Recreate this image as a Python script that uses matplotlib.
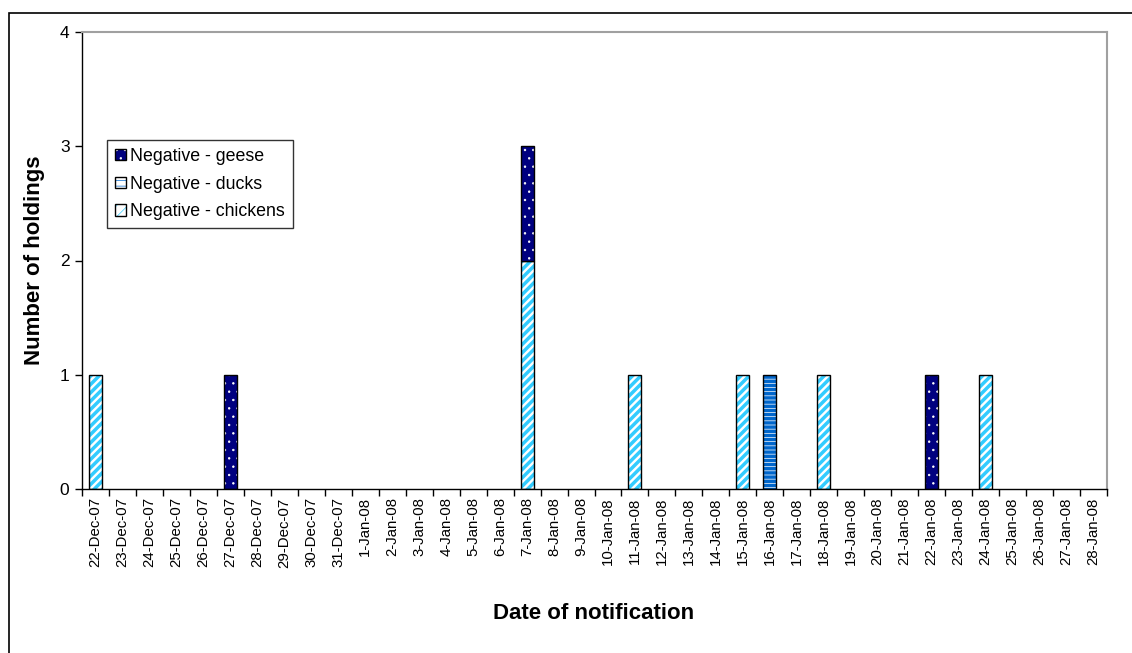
import matplotlib
matplotlib.use("Agg")
import matplotlib.pyplot as plt
from matplotlib.patches import Rectangle, Patch
from matplotlib.legend_handler import HandlerTuple
import numpy as np

dates = ["22-Dec-07", "23-Dec-07", "24-Dec-07", "25-Dec-07", "26-Dec-07", "27-Dec-07",
         "28-Dec-07", "29-Dec-07", "30-Dec-07", "31-Dec-07", "1-Jan-08", "2-Jan-08",
         "3-Jan-08", "4-Jan-08", "5-Jan-08", "6-Jan-08", "7-Jan-08", "8-Jan-08",
         "9-Jan-08", "10-Jan-08", "11-Jan-08", "12-Jan-08", "13-Jan-08", "14-Jan-08",
         "15-Jan-08", "16-Jan-08", "17-Jan-08", "18-Jan-08", "19-Jan-08", "20-Jan-08",
         "21-Jan-08", "22-Jan-08", "23-Jan-08", "24-Jan-08", "25-Jan-08", "26-Jan-08",
         "27-Jan-08", "28-Jan-08"]

chickens = [1, 0, 0, 0, 0, 0, 0, 0, 0, 0, 0, 0, 0, 0, 0, 0, 2, 0, 0, 0, 1, 0, 0, 0,
            1, 0, 0, 1, 0, 0, 0, 0, 0, 1, 0, 0, 0, 0]
ducks = [0, 0, 0, 0, 0, 0, 0, 0, 0, 0, 0, 0, 0, 0, 0, 0, 0, 0, 0, 0, 0, 0, 0, 0,
         0, 1, 0, 0, 0, 0, 0, 0, 0, 0, 0, 0, 0, 0]
geese = [0, 0, 0, 0, 0, 1, 0, 0, 0, 0, 0, 0, 0, 0, 0, 0, 1, 0, 0, 0, 0, 0, 0, 0,
         0, 0, 0, 0, 0, 0, 0, 1, 0, 0, 0, 0, 0, 0]

plt.rcParams['font.family'] = ['Liberation Sans', 'DejaVu Sans']
plt.rcParams['hatch.linewidth'] = 2.5

fig = plt.figure(figsize=(11.32, 6.53), dpi=100)
# outer chart border
fig.patches.append(Rectangle((9/1132, -0.1), 1.2, (653-13)/653 + 0.1,
                             transform=fig.transFigure, fill=False,
                             edgecolor='black', linewidth=1.2))
ax = fig.add_axes([82/1132, (653-489)/653, (1107-82)/1132, (489-32)/653])

x = np.arange(len(dates))
w = 0.48
ch = np.array(chickens)
du = np.array(ducks)
ge = np.array(geese)

series = [
    (ch, np.zeros(len(x)), 'white', '#33CCFF', '////', '///', 2.5, 'Negative - chickens'),
    (du, ch, 'white', '#0066CC', '----', '---', 2.5, 'Negative - ducks'),
    (ge, ch + du, '#000080', 'white', '..', '..', 0.5, 'Negative - geese'),
]
leg_handles = []
leg_labels = []
for vals, bottom, fc, hc, hatch, lhatch, hlw, label in series:
    mask = vals > 0
    plt.rcParams['hatch.linewidth'] = hlw
    ax.bar(x[mask], vals[mask], w, bottom=bottom[mask], color=fc,
           edgecolor=hc, hatch=hatch, linewidth=0)
    ax.bar(x[mask], vals[mask], w, bottom=bottom[mask], fill=False,
           edgecolor='black', linewidth=1.0)
    h1 = Patch(facecolor=fc, edgecolor=hc, hatch=lhatch, linewidth=0)
    h2 = Patch(fill=False, edgecolor='black', linewidth=1.0)
    leg_handles.insert(0, (h1, h2))
    leg_labels.insert(0, label)

ax.set_xlim(-0.5, len(dates) - 0.5)
ax.set_ylim(0, 4)
ax.set_yticks([0, 1, 2, 3, 4])
ax.set_xticks(np.arange(len(dates) + 1) - 0.5, minor=False)
ax.set_xticklabels([])
ax.set_xticks(x, minor=True)
ax.set_xticklabels(dates, minor=True, rotation=90, fontsize=10.8)
ax.tick_params(axis='x', which='minor', length=0, pad=6)
ax.tick_params(axis='x', which='major', length=5, direction='out', width=1)
ax.tick_params(axis='y', length=5, direction='out', width=1, labelsize=12.5, pad=4)

for s in ['top', 'right']:
    ax.spines[s].set_color('#A0A0A0')
    ax.spines[s].set_linewidth(1.5)
for s in ['left', 'bottom']:
    ax.spines[s].set_color('black')
    ax.spines[s].set_linewidth(1.0)

ax.set_ylabel('Number of holdings', fontsize=16, fontweight='bold')
ax.yaxis.set_label_coords(-0.036, 0.5)
ax.set_xlabel('Date of notification', fontsize=16, fontweight='bold')
ax.xaxis.set_label_coords(0.4995, -0.2495)

leg = ax.legend(leg_handles, leg_labels, handler_map={tuple: HandlerTuple(ndivide=1)},
                loc='upper left', bbox_to_anchor=(25/1025, (489-140)/457),
                borderaxespad=0, fontsize=12.8, frameon=True, fancybox=False,
                edgecolor='black', handlelength=0.6, handleheight=0.6,
                handletextpad=0.25, labelspacing=0.6, borderpad=0.45)
leg.get_frame().set_linewidth(1.0)

fig.savefig('out.png', dpi=100)
